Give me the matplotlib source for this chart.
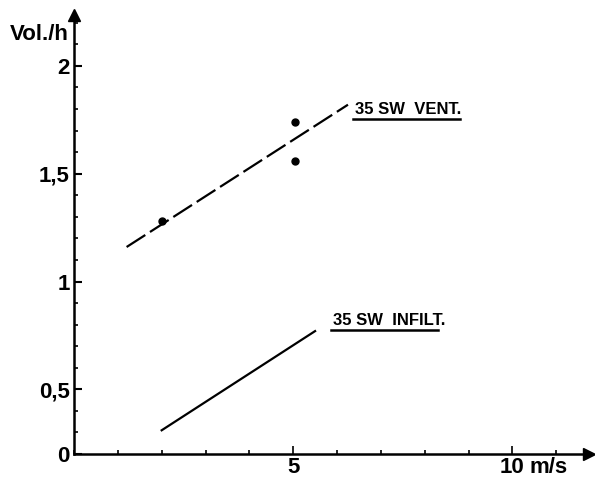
import matplotlib.pyplot as plt
from matplotlib.ticker import MultipleLocator

# datos
vent_x = [1.2, 6.25]
vent_y = [1.16, 1.82]
puntos_x = [2.0, 5.05, 5.05]
puntos_y = [1.28, 1.74, 1.56]
infilt_x = [2.0, 5.5]
infilt_y = [0.31, 0.77]

ytick_pos = [0.2, 0.5, 1, 1.5, 2]
ytick_lab = ['0', '0,5', '1', '1,5', '2']
xtick_pos = [5, 10]
xtick_lab = ['5', '10']

plt.rcParams['font.family'] = ['Liberation Sans', 'DejaVu Sans']
plt.rcParams['font.weight'] = 'bold'

fig = plt.figure(figsize=(5.95, 4.79), dpi=100)
ax = fig.add_axes([74 / 595, 25 / 479, 1 - 74 / 595 - 0.01, (454 - 15) / 479])

ax.plot(vent_x, vent_y, color='black', lw=1.6, dashes=(10, 2.5))
ax.plot(puntos_x, puntos_y, 'o', color='black', ms=5)
ax.plot(infilt_x, infilt_y, color='black', lw=1.6)

ax.set_xlim(0, 11.75)
ax.set_ylim(0.2, 2.236)

for s in ['top', 'right']:
    ax.spines[s].set_visible(False)
ax.spines['left'].set_linewidth(1.8)
ax.spines['bottom'].set_linewidth(1.8)

# flechas de los ejes
ax.plot(1, 0.2, '>k', ms=9, transform=ax.get_yaxis_transform(), clip_on=False)
ax.plot(0, 1, '^k', ms=9, transform=ax.get_xaxis_transform(), clip_on=False)

ax.set_yticks(ytick_pos)
ax.set_yticklabels(ytick_lab)
ax.yaxis.set_minor_locator(MultipleLocator(0.1))
ax.set_xticks(xtick_pos)
ax.set_xticklabels(xtick_lab)
ax.xaxis.set_minor_locator(MultipleLocator(1))
ax.tick_params(axis='y', which='major', direction='in', length=6, width=1.5, labelsize=16, pad=3)
ax.tick_params(axis='y', which='minor', direction='in', length=3, width=1.2)
ax.tick_params(axis='x', which='major', direction='in', length=6, width=1.2, labelsize=16, pad=2)
ax.tick_params(axis='x', which='minor', direction='in', length=3, width=1.2)

ax.annotate('m/s', xy=(10.4, 0.2), xytext=(0, -2), textcoords='offset points',
            fontsize=16, fontweight='bold', va='top', ha='left', annotation_clip=False)
fig.text(10 / 595, 1 - 35 / 479, 'Vol./h', fontsize=16, fontweight='bold', va='center', ha='left')

ax.text(6.4, 1.765, '35 SW  VENT.', fontsize=12, fontweight='bold', va='bottom', ha='left')
ax.plot([6.36, 8.8], [1.755, 1.755], color='black', lw=1.8)
ax.text(5.9, 0.783, '35 SW  INFILT.', fontsize=12, fontweight='bold', va='bottom', ha='left')
ax.plot([5.86, 8.3], [0.773, 0.773], color='black', lw=1.8)

fig.savefig('out.png', dpi=100)
